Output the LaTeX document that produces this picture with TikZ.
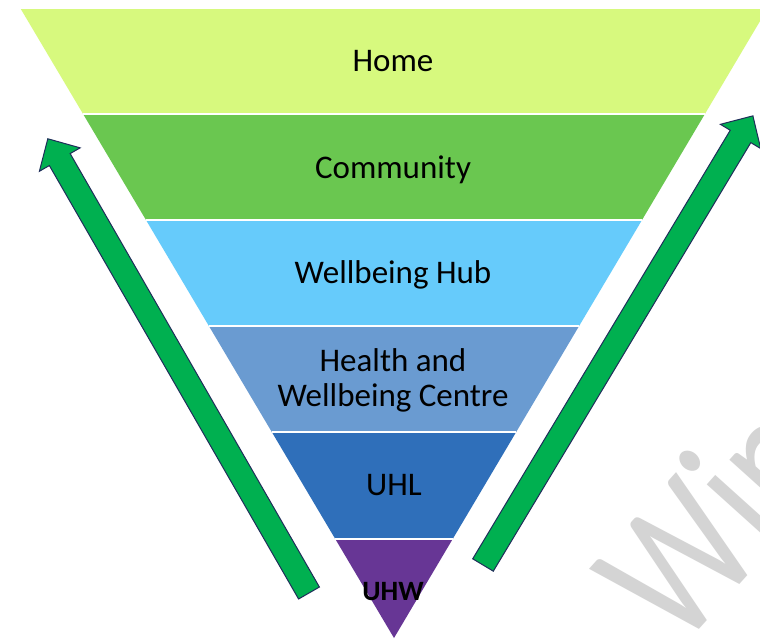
\documentclass[tikz,border=0pt]{standalone}
\usepackage{fontspec}
\setmainfont{Carlito}
\usetikzlibrary{calc}
\definecolor{homec}{HTML}{D7F97E}
\definecolor{commc}{HTML}{6AC750}
\definecolor{hubc}{HTML}{66CBFB}
\definecolor{healthc}{HTML}{6A9BD1}
\definecolor{uhlc}{HTML}{2F6FBA}
\definecolor{uhwc}{HTML}{673695}
\definecolor{arrowgreen}{HTML}{00B050}
\definecolor{arrownavy}{HTML}{1F2D5A}
\definecolor{wmark}{HTML}{D4D4D4}
\tikzset{
  lbl/.style={font=\fontsize{33}{35}\selectfont, text=black, align=center, inner sep=0pt},
  bandgap/.style={draw=white, line width=2pt},
  greenarrow/.style={fill=arrowgreen, draw=arrownavy, line width=1pt, line join=miter}
}
\begin{document}
\begin{tikzpicture}[x=1pt, y=-1pt]
\useasboundingbox (0,0) rectangle (760,641);
\clip (0,0) rectangle (760,641);
\fill[white] (0,0) rectangle (760,641);
% watermark
\node[text=wmark, font=\fontsize{190}{190}\selectfont, rotate=48, xscale=0.78, anchor=base west, inner sep=0pt] (wm) at (679,652) {Win};
% edge points
\coordinate (L0) at (20.8,9);   \coordinate (R0) at (767.2,9);
\coordinate (L1) at (82.8,113.5); \coordinate (R1) at (705.2,113.5);
\coordinate (L2) at (145.7,219.5); \coordinate (R2) at (642.3,219.5);
\coordinate (L3) at (208.9,326); \coordinate (R3) at (579.1,326);
\coordinate (L4) at (271.8,432); \coordinate (R4) at (516.2,432);
\coordinate (L5) at (335,538.5); \coordinate (R5) at (453,538.5);
\coordinate (apex) at (394,638);
% bands
\fill[homec] (L0) -- (R0) -- (R1) -- (L1) -- cycle;
\fill[commc] (L1) -- (R1) -- (R2) -- (L2) -- cycle;
\fill[hubc] (L2) -- (R2) -- (R3) -- (L3) -- cycle;
\fill[healthc] (L3) -- (R3) -- (R4) -- (L4) -- cycle;
\fill[uhlc] (L4) -- (R4) -- (R5) -- (L5) -- cycle;
\fill[uhwc] (L5) -- (R5) -- (apex) -- cycle;
\draw[bandgap] (L1) -- (R1);
\draw[bandgap] (L2) -- (R2);
\draw[bandgap] (L3) -- (R3);
\draw[bandgap] (L4) -- (R4);
\draw[bandgap] (L5) -- (R5);
% labels
\node[lbl, anchor=base] (home) at (393,71) {Home};
\node[lbl, anchor=base] (community) at (393,178) {Community};
\node[lbl, anchor=base] (hub) at (393,283) {Wellbeing Hub};
\node[lbl] (health) at (393,380) {Health and\\Wellbeing Centre};
\node[lbl, anchor=base] (uhl) at (394,495) {UHL};
\node[lbl, anchor=base, font=\fontsize{28}{30}\selectfont\bfseries] (uhw) at (393,600) {UHW};
% arrows
\begin{scope}[shift={(309,593)}, rotate=119.9]
\draw[greenarrow] (0,-12) -- (500,-12) -- (500,-23.5) -- (524,0) -- (500,23.5) -- (500,12) -- (0,12) -- cycle;
\end{scope}
\begin{scope}[shift={(483,565)}, rotate=59.0]
\draw[greenarrow] (0,-12) -- (500,-12) -- (500,-23.5) -- (524,0) -- (500,23.5) -- (500,12) -- (0,12) -- cycle;
\end{scope}
\end{tikzpicture}
\end{document}
